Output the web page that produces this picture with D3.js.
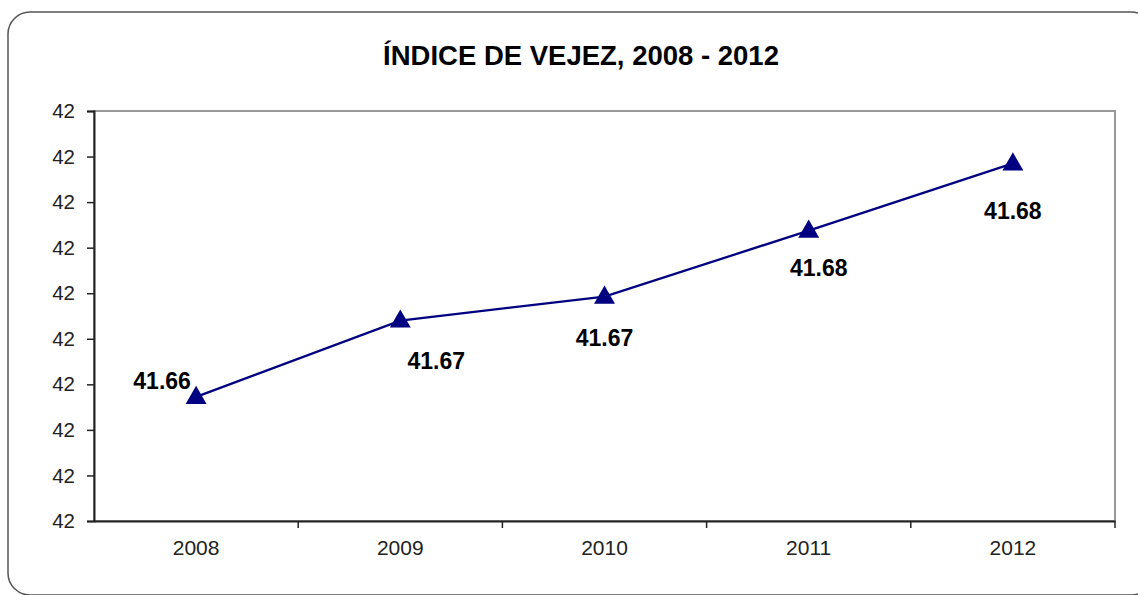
<!DOCTYPE html>
<html>
<head>
<meta charset="utf-8">
<script src="https://cdn.jsdelivr.net/npm/d3@7"></script>
<style>
  body { margin: 0; background: #fff; }
  text { font-family: "Liberation Sans", Arial, sans-serif; }
</style>
</head>
<body>
<svg id="chart" width="1138" height="595"></svg>
<script>
// data
var years = ["2008", "2009", "2010", "2011", "2012"];
var indice = [41.6629, 41.6696, 41.6717, 41.6775, 41.6834];
var yTicks = [41.652, 41.656, 41.660, 41.664, 41.668, 41.672, 41.676, 41.680, 41.684, 41.688];

// where each value label sits relative to its point (manually placed in the source)
var labelOffset = [[-34, -16], [36, 40], [0, 41], [10, 37], [0, 48]];

var svg = d3.select("#chart");
var margin = {left: 94, right: 1115, top: 111, bottom: 521};

// outer frame
svg.append("rect")
  .attr("x", 8).attr("y", 12)
  .attr("width", 1145).attr("height", 583)
  .attr("rx", 22).attr("ry", 22)
  .attr("fill", "#fff")
  .attr("stroke", "#555").attr("stroke-width", 1.5);

svg.append("text")
  .attr("x", 581).attr("y", 65)
  .attr("text-anchor", "middle")
  .style("font-size", "27.5px").style("font-weight", "bold")
  .text("ÍNDICE DE VEJEZ, 2008 - 2012");

var x = d3.scaleBand().domain(years).range([margin.left, margin.right]);
var y = d3.scaleLinear().domain([41.652, 41.688]).range([margin.bottom, margin.top]);

// plot area border (top/right in gray)
svg.append("rect")
  .attr("x", margin.left).attr("y", margin.top)
  .attr("width", margin.right - margin.left).attr("height", margin.bottom - margin.top)
  .attr("fill", "none").attr("stroke", "#999").attr("stroke-width", 2);

// y axis
var yAxis = svg.append("g")
  .attr("transform", "translate(" + margin.left + ",0)")
  .call(d3.axisLeft(y).tickValues(yTicks).tickFormat(d3.format(".0f")).tickSize(7).tickPadding(12));
yAxis.selectAll("text").style("font-size", "20.5px").attr("fill", "#222");

// x axis: ticks at category boundaries
var xAxis = svg.append("g")
  .attr("transform", "translate(0," + margin.bottom + ")")
  .call(d3.axisBottom(x).tickSize(0).tickPadding(19));
xAxis.selectAll("text").style("font-size", "21px").attr("fill", "#222");
xAxis.selectAll(".tick")
  .append("line")
  .attr("x1", x.bandwidth() / 2).attr("x2", x.bandwidth() / 2)
  .attr("y1", 0).attr("y2", 7)
  .attr("stroke", "#222");

[yAxis, xAxis].forEach(function (a) {
  a.select(".domain").attr("stroke", "#222").attr("stroke-width", 2);
  a.selectAll(".tick line").attr("stroke", "#222").attr("stroke-width", 1.5);
});

var cx = function (d, i) { return x(years[i]) + x.bandwidth() / 2; };

var line = d3.line()
  .x(function (d, i) { return cx(d, i); })
  .y(function (d) { return y(d); });

svg.append("path")
  .datum(indice)
  .attr("d", line)
  .attr("fill", "none")
  .attr("stroke", "#000080")
  .attr("stroke-width", 2.3);

svg.selectAll(".marker")
  .data(indice)
  .enter()
  .append("path")
  .attr("class", "marker")
  .attr("d", d3.symbol().type(d3.symbolTriangle).size(190))
  .attr("transform", function (d, i) { return "translate(" + cx(d, i) + "," + (y(d) + 1) + ")"; })
  .attr("fill", "#000080");

svg.selectAll(".lbl")
  .data(indice)
  .enter()
  .append("text")
  .attr("class", "lbl")
  .attr("x", function (d, i) { return cx(d, i) + labelOffset[i][0]; })
  .attr("y", function (d, i) { return y(d) + labelOffset[i][1]; })
  .attr("text-anchor", "middle")
  .attr("dominant-baseline", "central")
  .style("font-size", "23px").style("font-weight", "bold")
  .text(function (d) { return d3.format(".2f")(d); });
</script>
</body>
</html>
